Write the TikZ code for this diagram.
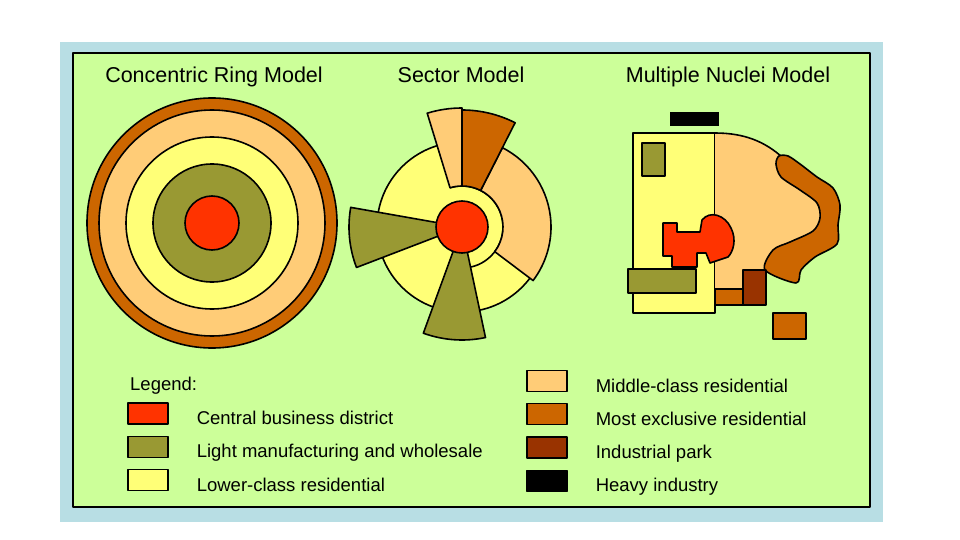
\documentclass[tikz,border=0pt]{standalone}
\usepackage{fontspec}
\setmainfont{Liberation Sans}
\usepackage{tikz}
\usetikzlibrary{positioning}
\definecolor{panelblue}{RGB}{184,222,228}
\definecolor{panelgreen}{RGB}{204,255,153}
\definecolor{cbdred}{RGB}{255,51,0}
\definecolor{lightolive}{RGB}{153,153,51}
\definecolor{lowyellow}{RGB}{255,255,119}
\definecolor{midorange}{RGB}{255,204,119}
\definecolor{topbrown}{RGB}{204,102,0}
\definecolor{parkbrown}{RGB}{153,51,0}

\begin{document}
\begin{tikzpicture}[x=1pt, y=1pt, line join=round]
    % Define styles
    \tikzstyle{zone} = [draw=black, line width=1.6pt]
    \tikzstyle{title} = [font=\fontsize{21.5}{24}\selectfont, anchor=base, inner sep=0pt]
    \tikzstyle{legbox} = [rectangle, draw=black, line width=1.2pt, minimum width=40pt, minimum height=21pt, inner sep=0pt]
    \tikzstyle{legtext} = [font=\fontsize{18.5}{21}\selectfont, anchor=base west, inner sep=0pt]

    \useasboundingbox (0,0) rectangle (960,-540);

    % Panel
    \fill[panelblue] (60,-42) rectangle (883,-522);
    \filldraw[fill=panelgreen, draw=black, line width=1.6pt] (73,-53) rectangle (870,-507);

    % Titles
    \node[title] (ringtitle) at (214,-83) {Concentric Ring Model};
    \node[title] (sectortitle) at (461,-83) {Sector Model};
    \node[title] (nucleititle) at (728,-83) {Multiple Nuclei Model};

    % Concentric ring model
    \coordinate (ringc) at (212,-223);
    \filldraw[zone, fill=topbrown] (ringc) circle (125);
    \filldraw[zone, fill=midorange] (ringc) circle (113);
    \filldraw[zone, fill=lowyellow] (ringc) circle (86);
    \filldraw[zone, fill=lightolive] (ringc) circle (59);
    \filldraw[zone, fill=cbdred] (ringc) circle (27);

    % Sector model
    \coordinate (sectc) at (462,-227);
    \filldraw[zone, fill=lowyellow] (sectc) circle (85);
    \draw[zone] ([shift={(-78:41)}]sectc) arc[start angle=-78, end angle=107, radius=41];
    \filldraw[zone, fill=midorange] ([shift={(-37:41)}]sectc) arc[start angle=-37, end angle=63, radius=41]
        -- ([shift={(63:89)}]sectc) arc[start angle=63, end angle=-37, radius=89] -- cycle;
    \filldraw[zone, fill=topbrown] ([shift={(63:41)}]sectc) arc[start angle=63, end angle=90, radius=41]
        -- ([shift={(90:117)}]sectc) arc[start angle=90, end angle=63, radius=117] -- cycle;
    \filldraw[zone, fill=midorange] ([shift={(90:41)}]sectc) arc[start angle=90, end angle=107, radius=41]
        -- ([shift={(107:119)}]sectc) arc[start angle=107, end angle=90, radius=119] -- cycle;
    \filldraw[zone, fill=lightolive] (sectc) -- ([shift={(170:113)}]sectc) arc[start angle=170, end angle=201, radius=113] -- cycle;
    \filldraw[zone, fill=lightolive] (sectc) -- ([shift={(250:113)}]sectc) arc[start angle=250, end angle=282, radius=113] -- cycle;
    \filldraw[zone, fill=cbdred] (sectc) circle (26);

    % Multiple nuclei model
    \filldraw[zone, fill=lowyellow] (633,-133) rectangle (715,-313);
    \filldraw[zone, fill=lightolive] (642,-143) rectangle (665,-176);
    \fill[midorange] (715,-133) .. controls (745,-133) and (765,-142) .. (782,-157) -- (798,-177) -- (828,-205)
        -- (828,-223) -- (812,-243) -- (790,-260) -- (766,-272) -- (743,-272) -- (743,-290) -- (715,-290) -- cycle;
    \draw[zone] (715,-133) .. controls (745,-133) and (765,-142) .. (782,-157);
    \filldraw[zone, fill=topbrown] plot[smooth cycle, tension=0.5] coordinates {
        (779,-156) (788,-156) (800,-164) (817,-177) (833,-188) (840,-205) (838,-225) (837,-244)
        (815,-257) (801,-270) (796,-283) (765,-270) (773,-250) (790,-242) (813,-231) (820,-218)
        (817,-203) (800,-190) (781,-177) (776,-164)};
    \filldraw[zone, fill=cbdred] (663,-223) -- (677,-223) -- (677,-232) -- (700,-232) -- (702,-220)
        .. controls (710,-210) and (725,-215) .. (731,-228) .. controls (737,-240) and (733,-252) .. (728,-257)
        -- (710,-263) -- (706,-253) -- (697,-253) -- (697,-267) -- (672,-267) -- (672,-256) -- (663,-256) -- cycle;
    \filldraw[zone, fill=lightolive] (628,-269) rectangle (696,-293);
    \filldraw[zone, fill=parkbrown] (743,-270) rectangle (766,-305);
    \filldraw[zone, fill=topbrown] (715,-289) rectangle (743,-305);
    \filldraw[zone, fill=topbrown] (773,-313) rectangle (806,-339);
    \fill[black] (670,-112) rectangle (719,-126);

    % Legend
    \node[legtext] (legend) at (130,-390) {Legend:};
    \node[legbox, fill=cbdred] (cbdbox) at (148,-413.5) {};
    \node[legbox, fill=lightolive, below=11pt of cbdbox] (olivebox) {};
    \node[legbox, fill=lowyellow, below=11pt of olivebox] (lowbox) {};
    \node[legtext, right=28pt of cbdbox.south east, anchor=base west] (cbdtext) {Central business district};
    \node[legtext, right=28pt of olivebox.south east, anchor=base west] (olivetext) {Light manufacturing and wholesale};
    \node[legtext, right=28pt of lowbox.south east, anchor=base west] (lowtext) {Lower-class residential};

    \node[legbox, fill=midorange] (midbox) at (547,-381) {};
    \node[legbox, fill=topbrown, below=11pt of midbox] (topbox) {};
    \node[legbox, fill=parkbrown, below=11pt of topbox] (parkbox) {};
    \node[legbox, fill=black, below=11pt of parkbox] (heavybox) {};
    \node[legtext, right=28pt of midbox.south east, anchor=base west] (midtext) {Middle-class residential};
    \node[legtext, right=28pt of topbox.south east, anchor=base west] (toptext) {Most exclusive residential};
    \node[legtext, right=28pt of parkbox.south east, anchor=base west] (parktext) {Industrial park};
    \node[legtext, right=28pt of heavybox.south east, anchor=base west] (heavytext) {Heavy industry};
\end{tikzpicture}
\end{document}
